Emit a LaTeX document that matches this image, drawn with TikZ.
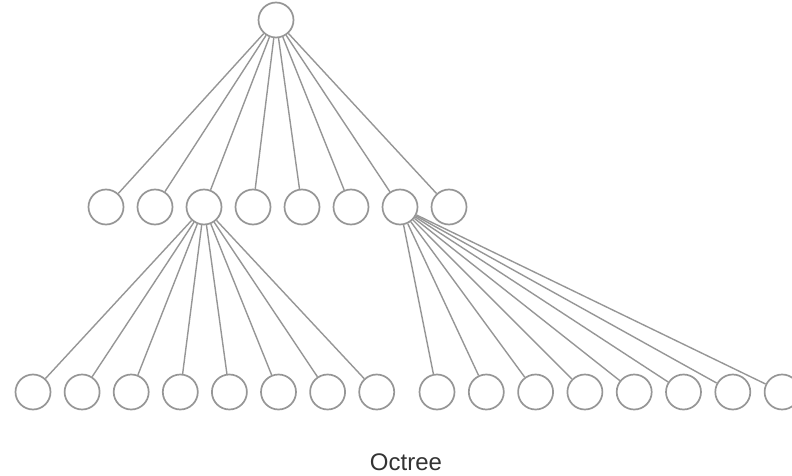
\documentclass[tikz,border=0pt]{standalone}
\usepackage{fontspec}
\setmainfont{Liberation Sans}
\definecolor{edgegray}{HTML}{969696}
\definecolor{txtgray}{HTML}{333333}
\begin{document}
\begin{tikzpicture}[x=1pt,y=-1pt,
  treenode/.style={circle,draw=edgegray,line width=1.7pt,fill=white,minimum size=35pt,inner sep=0pt},
  edge/.style={draw=edgegray,line width=1.4pt}]
\useasboundingbox (0,0) rectangle (792,476);
\node[treenode] (r) at (276,20) {};
\foreach \i in {0,...,7}{
  \node[treenode] (a\i) at ({106+49*\i},207) {};
  \node[treenode] (b\i) at ({33+49.1*\i},392) {};
  \node[treenode] (c\i) at ({437+49.3*\i},392) {};
}
\foreach \i in {0,...,7}{
  \draw[edge] (r) -- (a\i);
  \draw[edge] (a2) -- (b\i);
  \draw[edge] (a6) -- (c\i);
}
\node[anchor=base,text=txtgray,font=\fontsize{24}{28}\selectfont,inner sep=0pt,text depth=0pt] (lbl) at (406,470) {Octree};
\end{tikzpicture}
\end{document}
